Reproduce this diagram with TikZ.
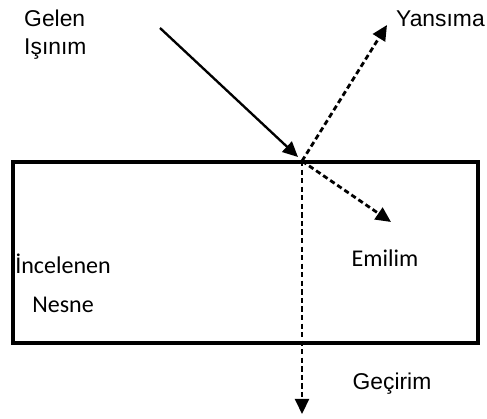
\documentclass[tikz,border=0pt]{standalone}
\usepackage{fontspec}
\setmainfont{Liberation Sans}
\newfontfamily\calfont{Carlito}
\usetikzlibrary{arrows.meta, positioning}

\begin{document}
\begin{tikzpicture}[x=0.03cm, y=-0.03cm,
  objbox/.style={rectangle, draw=black, line width=2.8pt,
                 minimum width=13.95cm, minimum height=5.43cm},
  lbl/.style={font=\fontsize{19.5}{24}\selectfont, align=center, inner sep=0pt},
  inray/.style={-{Triangle[length=13pt, width=12pt]}, line width=2pt, black},
  outray/.style={-{Triangle[length=13pt, width=12pt]}, line width=2.4pt, black,
                 dash pattern=on 4.5pt off 2.8pt}
]
  \useasboundingbox (0,0) rectangle (487,418);

  \node[objbox] (nesne) at (245.5,252.5) {};

  % ray end points
  \coordinate (src) at (160,28);
  \coordinate (hit) at (302,161);
  \coordinate (yend) at (387,25);
  \coordinate (eend) at (391,222);
  \coordinate (gend) at (302,414);

  \draw[inray]  (src) -- ([shift={(-4,-4)}]hit);
  \draw[outray] (hit) -- (yend);
  \draw[outray] (hit) -- (eend);
  \draw[outray] (hit) -- (gend);

  % labels
  \node[lbl, align=left, anchor=north west] (gelen) at (24,10) {Gelen\\I\c{s}{\i}n{\i}m};
  \node[lbl, anchor=west] (yans) at (396,19) {Yans{\i}ma};
  \node[lbl, font=\calfont\fontsize{20.5}{24}\selectfont] (emil) at (385,258) {Emilim};
  \node[lbl, font=\calfont\fontsize{20.5}{33}\selectfont] (incl) at (63,283) {\.Incelenen\\Nesne};
  \node[lbl] (gecir) at (392,384) {Ge\c{c}irim};
\end{tikzpicture}
\end{document}
